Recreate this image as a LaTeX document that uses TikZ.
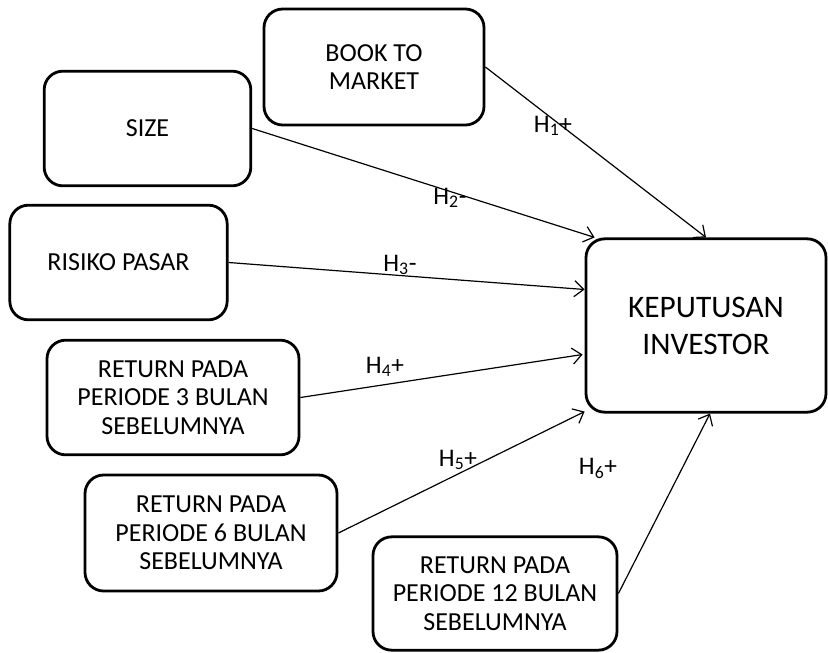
\documentclass[tikz,border=0pt]{standalone}
\usepackage{fontspec}
\setmainfont{Carlito}
\usetikzlibrary{arrows.meta,calc}

\begin{document}
\begin{tikzpicture}[
    x=0.75pt, y=-0.75pt,
    every node/.style={font=\fontsize{19.5}{21.5}\selectfont},
    var/.style={rectangle, rounded corners=14pt, draw, line width=2.1pt,
        align=center, inner sep=2pt},
    arrow/.style={-{Straight Barb[length=7pt,width=12pt]}, line width=0.9pt},
    hyp/.style={inner sep=0pt, font=\fontsize{19}{21}\selectfont},
    ]
    \useasboundingbox (0,0) rectangle (828,653);
    % Independent variables
    \node[var, minimum width=165pt, minimum height=87pt] (bm)     at (374,67)    {BOOK TO\\MARKET};
    \node[var, minimum width=155pt, minimum height=86pt] (size)   at (147.5,128.5) {SIZE};
    \node[var, minimum width=163pt, minimum height=86pt] (risiko) at (118.5,262.5) {RISIKO PASAR};
    \node[var, minimum width=189pt, minimum height=86pt] (ret3)   at (173,397.5) {RETURN PADA\\PERIODE 3 BULAN\\SEBELUMNYA};
    \node[var, minimum width=189pt, minimum height=87pt] (ret6)   at (211,533)   {RETURN PADA\\PERIODE 6 BULAN\\SEBELUMNYA};
    \node[var, minimum width=183pt, minimum height=85pt] (ret12)  at (495,593.5) {RETURN PADA\\PERIODE 12 BULAN\\SEBELUMNYA};
    % Dependent variable
    \node[var, minimum width=180pt, minimum height=130pt,
          font=\fontsize{23.5}{27.8}\selectfont] (kep) at (706,325.5) {KEPUTUSAN\\INVESTOR};
    % Arrows
    \draw[arrow] (bm.east) -- (kep.north);
    \draw[arrow] (size.east) -- ($(kep.north west)+(10,0)$);
    \draw[arrow] (risiko.east) -- ($(kep.west)+(0,-36)$);
    \draw[arrow] (ret3.east) -- ($(kep.west)+(-2,29)$);
    \draw[arrow] (ret6.east) -- ($(kep.south west)+(0,-2)$);
    \draw[arrow] (ret12.east) -- ($(kep.south)+(4,0)$);
    % Hypotheses
    \node[hyp] (h1) at (553,126) {H\textsubscript{1}+};
    \node[hyp] (h2) at (450,198) {H\textsubscript{2}-};
    \node[hyp] (h3) at (400,265) {H\textsubscript{3}-};
    \node[hyp] (h4) at (385,367) {H\textsubscript{4}+};
    \node[hyp] (h5) at (458,460) {H\textsubscript{5}+};
    \node[hyp] (h6) at (598,468) {H\textsubscript{6}+};
\end{tikzpicture}
\end{document}
